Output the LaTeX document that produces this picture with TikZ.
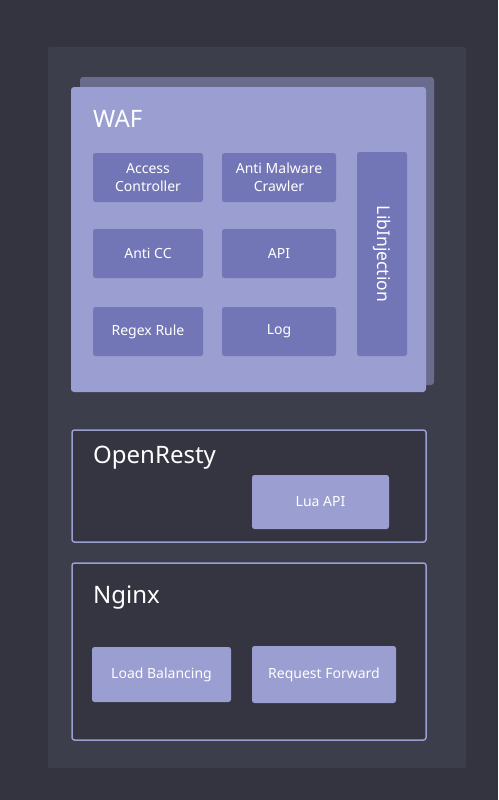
\documentclass[tikz,border=0pt]{standalone}
\usepackage{fontspec}
\setmainfont{Noto Sans}
\definecolor{outerbg}{HTML}{33343F}
\definecolor{panel}{HTML}{3D3E4C}
\definecolor{wafc}{HTML}{9A9ED1}
\definecolor{shadowc}{HTML}{6A6C8E}
\definecolor{modc}{HTML}{7276B6}
\definecolor{layerbg}{HTML}{343541}
\begin{document}
\begin{tikzpicture}[x=1pt,y=-1pt,
  modbox/.style={fill=modc,draw=none,rounded corners=2.5pt,text=white,font=\fontsize{14}{18}\selectfont,align=center},
  litebox/.style={fill=wafc,draw=none,rounded corners=2.5pt,text=white,font=\fontsize{14}{16}\selectfont,align=center},
  layer/.style={draw=wafc,line width=1.5pt,fill=layerbg,rounded corners=2.5pt},
  title/.style={text=white,font=\fontsize{24}{28}\selectfont,anchor=base west,inner sep=0pt}]
\path[fill=outerbg] (0,0) rectangle (498,800);
\useasboundingbox (0,0) rectangle (498,800);
\fill[panel,rounded corners=2pt] (48,47) rectangle (466,768);
% WAF
\fill[shadowc,rounded corners=3pt] (80,77) rectangle (434,385);
\fill[wafc,rounded corners=3pt] (71,87) rectangle (426,392);
\node[title] (waf) at (93,127) {WAF};
\node[modbox,minimum width=110pt,minimum height=49pt] (ac) at (148,177.5) {Access\\Controller};
\node[modbox,minimum width=114pt,minimum height=49pt] (amc) at (279,177.5) {Anti Malware\\Crawler};
\node[modbox,minimum width=110pt,minimum height=49pt] (cc) at (148,253.5) {Anti CC};
\node[modbox,minimum width=114pt,minimum height=49pt] (api) at (279,253.5) {API};
\node[modbox,minimum width=110pt,minimum height=49pt] (rr) at (148,331.5) {Regex Rule};
\node[modbox,minimum width=114pt,minimum height=49pt] (log) at (279,331.5) {Log};
\node[modbox,minimum width=50pt,minimum height=204pt,inner sep=0pt] (lib) at (382,254) {};
\node[text=white,font=\fontsize{17.5}{20}\selectfont,rotate=-90] (libt) at (lib.center) {LibInjection};
% OpenResty
\draw[layer] (72,430) rectangle (426,542);
\node[title] (or) at (93,463) {OpenResty};
\node[litebox,minimum width=137pt,minimum height=54pt] (lua) at (320.5,502) {Lua API};
% Nginx
\draw[layer] (72,563) rectangle (426,740);
\node[title] (ng) at (93,603) {Nginx};
\node[litebox,minimum width=139pt,minimum height=55pt] (lb) at (161.5,674.5) {Load Balancing};
\node[litebox,minimum width=144pt,minimum height=57pt] (rf) at (324,674.5) {Request Forward};
\end{tikzpicture}
\end{document}
